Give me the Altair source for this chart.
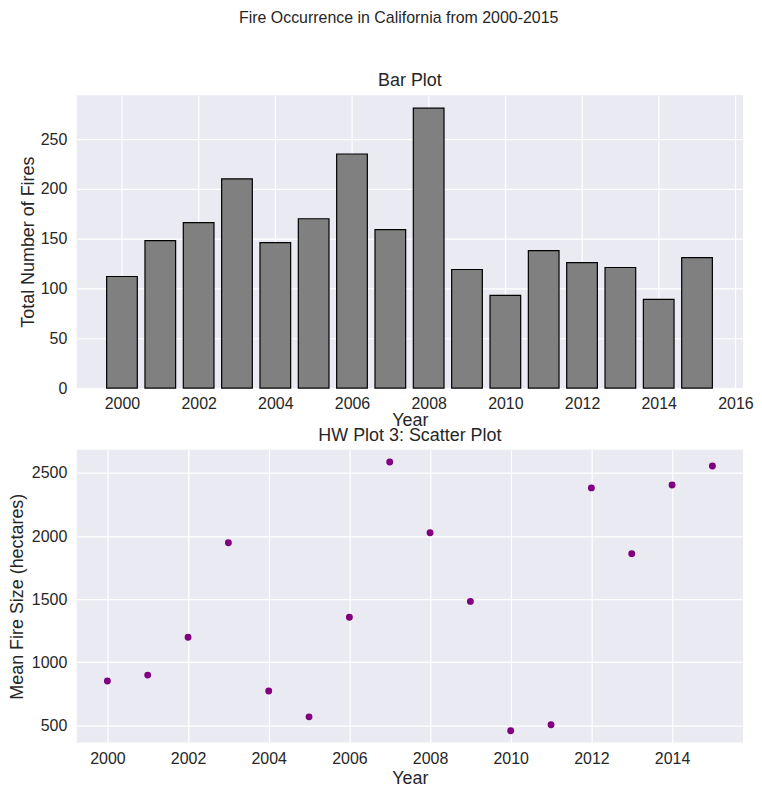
import altair as alt
import pandas as pd

years = list(range(2000, 2016))
fire_counts = [112, 148, 166, 210, 146, 170, 235, 159, 281, 119, 93, 138, 126, 121, 89, 131]
mean_size = [852, 899, 1199, 1948, 773, 568, 1357, 2587, 2027, 1483, 458, 505, 2382, 1861, 2405, 2555]

bar_x_ticks = [2000, 2002, 2004, 2006, 2008, 2010, 2012, 2014, 2016]
bar_y_ticks = [0, 50, 100, 150, 200, 250]
sc_x_ticks = [2000, 2002, 2004, 2006, 2008, 2010, 2012, 2014]
sc_y_ticks = [500, 1000, 1500, 2000, 2500]

df = pd.DataFrame({"Year": years, "Fires": fire_counts, "Size": mean_size})

FONT = "Liberation Sans"
TXT = "#262626"

bar = (
    alt.Chart(df)
    .transform_calculate(x0="datum.Year - 0.4", x1="datum.Year + 0.4", base="0")
    .mark_bar(color="#808080", stroke="black", strokeWidth=1.2)
    .encode(
        x=alt.X("x0:Q", title="Year",
                scale=alt.Scale(domain=[1998.82, 2016.2], nice=False, zero=False),
                axis=alt.Axis(values=bar_x_ticks, format="d", titlePadding=0, labelPadding=8)),
        x2="x1:Q",
        y=alt.Y("Fires:Q", title="Total Number of Fires",
                scale=alt.Scale(domain=[0, 294], nice=False),
                axis=alt.Axis(values=bar_y_ticks, titlePadding=3, labelPadding=10)),
        y2="base:Q",
    )
    .properties(width=669, height=294,
                title=alt.TitleParams("Bar Plot", fontSize=18, offset=5))
)

scatter = (
    alt.Chart(df)
    .mark_circle(color="#800080", opacity=1, size=48)
    .encode(
        x=alt.X("Year:Q", title="Year",
                scale=alt.Scale(domain=[1999.24, 2015.76], nice=False, zero=False),
                axis=alt.Axis(values=sc_x_ticks, format="d", titlePadding=3, labelPadding=8)),
        y=alt.Y("Size:Q", title="Mean Fire Size (hectares)",
                scale=alt.Scale(domain=[364, 2684], nice=False, zero=False),
                axis=alt.Axis(values=sc_y_ticks, format="d", titlePadding=5, labelPadding=10)),
    )
    .properties(width=669, height=294,
                title=alt.TitleParams("HW Plot 3: Scatter Plot", fontSize=18, offset=5))
)

chart = (
    alt.vconcat(bar, scatter, spacing=62, bounds="flush")
    .properties(
        title=alt.TitleParams("Fire Occurrence in California from 2000-2015",
                              fontSize=16, font=FONT, color=TXT, fontWeight="normal",
                              anchor="middle", offset=47, dx=18),
        padding={"left": 0, "top": 0, "right": 0, "bottom": 0},
    )
    .configure(font=FONT)
    .configure_view(fill="#EAEAF2", stroke=None)
    .configure_axis(
        grid=True, gridColor="white", gridWidth=1.2, domain=False, ticks=False,
        labelFont=FONT, labelFontSize=16, labelColor=TXT,
        titleFont=FONT, titleFontSize=18, titleColor=TXT, titleFontWeight="normal",
    )
    .configure_title(font=FONT, color=TXT, fontWeight="normal")
)

chart.save("out.html", embed_options={"renderer": "svg", "actions": False})
